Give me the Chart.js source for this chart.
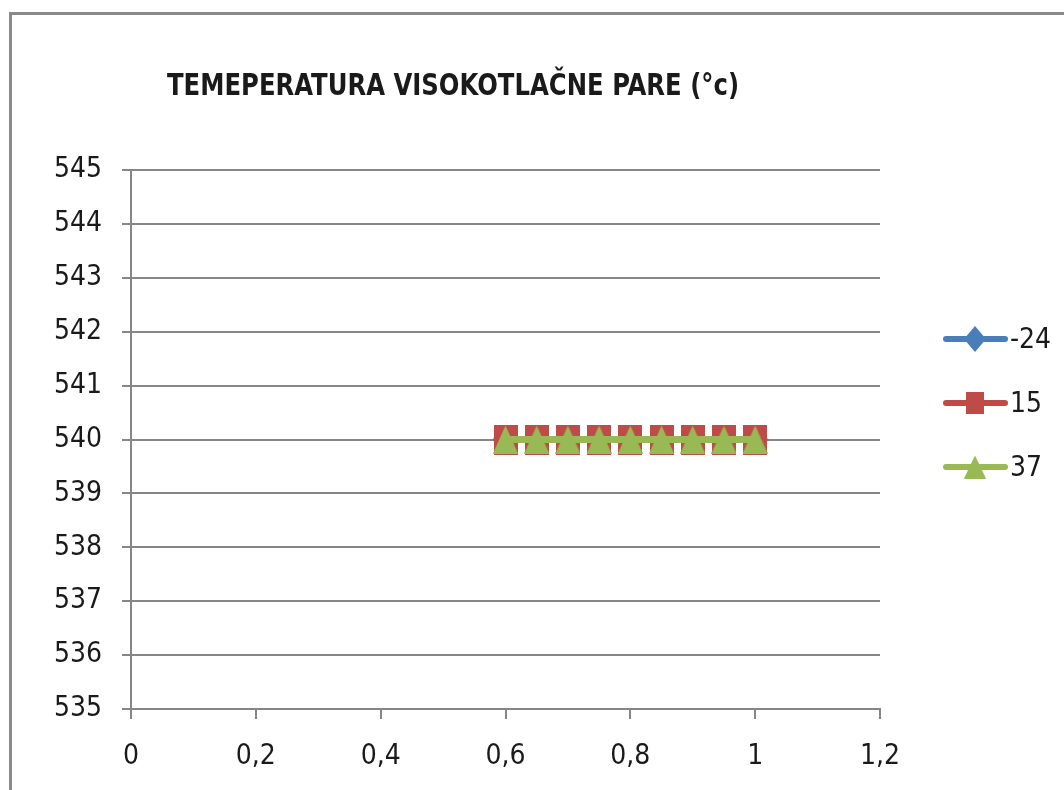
<!DOCTYPE html>
<html>
<head>
<meta charset="utf-8">
<script src="https://cdn.jsdelivr.net/npm/chart.js@4/dist/chart.umd.min.js"></script>
<style>
  html, body { margin: 0; padding: 0; background: #fff; }
  #wrap { width: 1064px; height: 790px; }
</style>
</head>
<body>
<div id="wrap"><canvas id="grafico" width="1064" height="790"></canvas></div>
<script>
const titulo = 'TEMEPERATURA VISOKOTLAČNE PARE (°c)';
const serieNombres = ['-24', '15', '37'];
const xValores = [0.6, 0.65, 0.7, 0.75, 0.8, 0.85, 0.9, 0.95, 1.0];
const serieA = [540, 540, 540, 540, 540, 540, 540, 540, 540]; // -24
const serieB = [540, 540, 540, 540, 540, 540, 540, 540, 540]; // 15
const serieC = [540, 540, 540, 540, 540, 540, 540, 540, 540]; // 37
const xTicks = ['0', '0,2', '0,4', '0,6', '0,8', '1', '1,2'];
const yTicks = ['535', '536', '537', '538', '539', '540', '541', '542', '543', '544', '545'];

const FUENTE = "'Liberation Sans Narrow', 'DejaVu Sans Condensed', 'Liberation Sans', sans-serif";
const GRIS = '#868686';
const TEXTO = '#1a1a1a';
const colores = ['#4A7EBB', '#BE4B48', '#98B954'];
const formas = ['diamante', 'cuadrado', 'triangulo'];

// marcadores dibujados a mano (la imagen original esta estirada en vertical)
const marcador = (forma, w, h, color) => {
    const c = document.createElement('canvas');
    c.width = w;
    c.height = h;
    const ctx = c.getContext('2d');
    ctx.fillStyle = color;
    ctx.beginPath();
    if (forma === 'cuadrado') {
        ctx.rect(0, 0, w, h);
    } else if (forma === 'triangulo') {
        ctx.moveTo(w / 2, 0);
        ctx.lineTo(w, h);
        ctx.lineTo(0, h);
        ctx.closePath();
    } else {
        ctx.moveTo(w / 2, 0);
        ctx.lineTo(w, h / 2);
        ctx.lineTo(w / 2, h);
        ctx.lineTo(0, h / 2);
        ctx.closePath();
    }
    ctx.fill();
    return c;
};

const medidasPunto = [[26, 30], [24, 30], [25, 28]];
const medidasLeyenda = [[22, 26], [18, 22], [22, 23]];
const puntosImg = formas.map((f, i) => marcador(f, medidasPunto[i][0], medidasPunto[i][1], colores[i]));
const leyendaImg = formas.map((f, i) => marcador(f, medidasLeyenda[i][0], medidasLeyenda[i][1], colores[i]));

const puntos = (ys) => xValores.map((x, i) => ({ x, y: ys[i] }));

const serie = (i, ys) => ({
    label: serieNombres[i],
    data: puntos(ys),
    borderColor: colores[i],
    backgroundColor: colores[i],
    borderWidth: 7,
    pointStyle: puntosImg[i],
    pointRadius: 15,
    showLine: true,
    tension: 0,
    order: 3 - i
});

// marco, titulo y leyenda al estilo de Excel
const decoracion = {
    id: 'decoracion',
    beforeDraw(chart) {
        const ctx = chart.ctx;
        ctx.save();
        ctx.fillStyle = '#fff';
        ctx.fillRect(0, 0, chart.width, chart.height);
        ctx.strokeStyle = '#8a8a8a';
        ctx.lineWidth = 3;
        ctx.strokeRect(10.5, 13.5, chart.width + 20, chart.height + 20);
        ctx.restore();
    },
    afterDraw(chart) {
        const ctx = chart.ctx;
        ctx.save();
        ctx.fillStyle = TEXTO;
        ctx.font = 'bold 30px ' + FUENTE;
        ctx.textAlign = 'center';
        ctx.textBaseline = 'middle';
        ctx.fillText(titulo, 453, 87, 572);

        serieNombres.forEach((nombre, i) => {
            const y = 339 + i * 64;
            ctx.strokeStyle = colores[i];
            ctx.lineWidth = 6;
            ctx.lineCap = 'round';
            ctx.beginPath();
            ctx.moveTo(946, y);
            ctx.lineTo(1005, y);
            ctx.stroke();
            const img = leyendaImg[i];
            ctx.drawImage(img, 975 - img.width / 2, y - img.height / 2);
            ctx.fillStyle = TEXTO;
            ctx.font = '28px ' + FUENTE;
            ctx.textAlign = 'left';
            ctx.textBaseline = 'middle';
            ctx.fillText(nombre, 1010, y + 2);
        });
        ctx.restore();
    }
};

new Chart(document.getElementById('grafico'), {
    type: 'scatter',
    data: {
        datasets: [serie(0, serieA), serie(1, serieB), serie(2, serieC)]
    },
    options: {
        responsive: false,
        animation: false,
        devicePixelRatio: 1,
        layout: { padding: { left: 0, right: 184, top: 170, bottom: 0 } },
        plugins: {
            legend: { display: false },
            title: { display: false },
            tooltip: { enabled: false }
        },
        scales: {
            x: {
                type: 'linear',
                min: 0,
                max: 1.2,
                ticks: {
                    stepSize: 0.2,
                    color: TEXTO,
                    font: { family: FUENTE, size: 28 },
                    padding: 21,
                    maxRotation: 0,
                    callback: (v, i) => xTicks[i]
                },
                grid: {
                    drawOnChartArea: false,
                    drawTicks: true,
                    tickLength: 10,
                    color: GRIS,
                    lineWidth: 2
                },
                border: { color: GRIS, width: 2 },
                afterFit: (scale) => { scale.height = 81; }
            },
            y: {
                type: 'linear',
                min: 535,
                max: 545,
                ticks: {
                    stepSize: 1,
                    color: TEXTO,
                    font: { family: FUENTE, size: 28 },
                    padding: 20,
                    callback: (v, i) => yTicks[i]
                },
                grid: {
                    color: GRIS,
                    lineWidth: 2,
                    tickLength: 9
                },
                border: { color: GRIS, width: 2 },
                afterFit: (scale) => { scale.width = 131; }
            }
        }
    },
    plugins: [decoracion]
});
</script>
</body>
</html>
